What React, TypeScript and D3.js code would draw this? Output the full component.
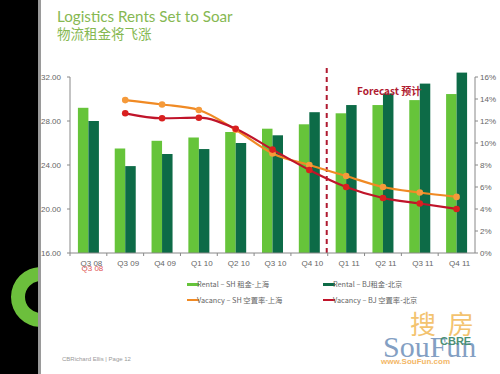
import React from "react";
import * as d3 from "d3";

const categories = ["Q3 08", "Q3 09", "Q4 09", "Q1 10", "Q2 10", "Q3 10", "Q4 10", "Q1 11", "Q2 11", "Q3 11", "Q4 11"];
const rentalSH = [29.2, 25.5, 26.2, 26.5, 27.0, 27.3, 27.7, 28.7, 29.45, 29.9, 30.45];
const rentalBJ = [28.0, 23.9, 25.0, 25.45, 26.0, 26.7, 28.8, 29.45, 30.5, 31.4, 32.4];
const vacancySH: (number | null)[] = [null, 13.9, 13.5, 13.0, 11.2, 9.05, 8.0, 7.0, 6.0, 5.5, 5.1];
const vacancyBJ: (number | null)[] = [null, 12.7, 12.25, 12.3, 11.3, 9.4, 7.55, 6.0, 5.0, 4.5, 4.0];
const leftTicks = [16, 20, 24, 28, 32];
const rightTicks = [0, 2, 4, 6, 8, 10, 12, 14, 16];

const C_LIGHT = "#66c43a";
const C_DARK = "#0d6b47";
const C_ORANGE = "#f08a24";
const C_RED = "#c0142a";

export default function App() {
  const left = 70, right = 475, top = 77, bottom = 253;
  const x = d3.scaleBand<string>().domain(categories).range([left, right]).paddingInner(0).paddingOuter(0);
  const yL = d3.scaleLinear().domain([16, 32]).range([bottom, top]);
  const yR = d3.scaleLinear().domain([0, 16]).range([bottom, top]);
  const bw = 10.5;
  const cx = (c: string) => (x(c) as number) + x.bandwidth() / 2;

  const lineGen = d3
    .line<[string, number | null]>()
    .defined((d) => d[1] !== null)
    .x((d) => cx(d[0]))
    .y((d) => yR(d[1] as number))
    .curve(d3.curveMonotoneX);

  const shPts = categories.map((c, i) => [c, vacancySH[i]] as [string, number | null]);
  const bjPts = categories.map((c, i) => [c, vacancyBJ[i]] as [string, number | null]);

  const font = "'Liberation Sans', Arial, sans-serif";
  const tickColor = "#666";
  const forecastX = (x("Q1 11") as number) - 1;

  const arc = d3.arc()({ innerRadius: 16, outerRadius: 30, startAngle: 0, endAngle: Math.PI * 2 }) as string;

  return (
    <svg width={500} height={374} style={{ position: "absolute", left: 0, top: 0, background: "#fff" }} fontFamily={font}>
      <defs>
        <clipPath id="stripClip">
          <rect x={0} y={0} width={38} height={374} />
        </clipPath>
      </defs>
      <rect x={0} y={0} width={500} height={374} fill="#fff" />
      {/* black side strip */}
      <rect x={0} y={0} width={38} height={374} fill="#000" />
      {/* green C ring */}
      <g clipPath="url(#stripClip)">
        <path d={arc} transform="translate(41,297)" fill="#6cbf3c" />
      </g>
      <rect x={38} y={0} width={3} height={374} fill="#9a9a9a" />

      {/* title */}
      <text x={57} y={22} fontSize={15.2} fill="#86b852" fontFamily="Lato, 'Noto Sans', sans-serif">Logistics Rents Set to Soar</text>
      <text x={57} y={39} fontSize={13.5} fill="#86b852" fontFamily="'Noto Sans CJK SC', sans-serif">物流租金将飞涨</text>

      {/* bars */}
      {categories.map((c, i) => (
        <g key={c}>
          <rect x={cx(c) - bw} y={yL(rentalSH[i])} width={bw} height={bottom - yL(rentalSH[i])} fill={C_LIGHT} />
          <rect x={cx(c)} y={yL(rentalBJ[i])} width={bw} height={bottom - yL(rentalBJ[i])} fill={C_DARK} />
        </g>
      ))}

      {/* forecast divider */}
      <line x1={forecastX} x2={forecastX} y1={68} y2={256} stroke="#b01a30" strokeWidth={2} strokeDasharray="5,4" />
      <text x={357} y={95} fontSize={10} fontWeight="bold" fill="#b01a30" fontFamily="'Noto Sans CJK SC', sans-serif">Forecast 预计</text>

      {/* lines */}
      <path d={lineGen(shPts) as string} fill="none" stroke={C_ORANGE} strokeWidth={2.2} />
      <path d={lineGen(bjPts) as string} fill="none" stroke={C_RED} strokeWidth={2.2} />
      {shPts.filter((d) => d[1] !== null).map((d) => (
        <circle key={"s" + d[0]} cx={cx(d[0])} cy={yR(d[1] as number)} r={3.3} fill="#f59a3a" />
      ))}
      {bjPts.filter((d) => d[1] !== null).map((d) => (
        <circle key={"b" + d[0]} cx={cx(d[0])} cy={yR(d[1] as number)} r={3.3} fill="#d9201f" />
      ))}

      {/* left axis */}
      <line x1={left} x2={left} y1={top} y2={bottom} stroke="#888" />
      {leftTicks.map((t) => (
        <g key={t}>
          <line x1={left - 3} x2={left} y1={yL(t)} y2={yL(t)} stroke="#888" />
          <text x={41} y={yL(t) + 3} fontSize={8} fill={tickColor}>{t.toFixed(2)}</text>
        </g>
      ))}
      {/* right axis */}
      <line x1={right} x2={right} y1={top} y2={bottom} stroke="#888" />
      {rightTicks.map((t) => (
        <g key={t}>
          <line x1={right} x2={right + 3} y1={yR(t)} y2={yR(t)} stroke="#888" />
          <text x={480} y={yR(t) + 3} fontSize={8} fill={tickColor}>{t + "%"}</text>
        </g>
      ))}
      {/* bottom axis */}
      <line x1={left} x2={right} y1={bottom} y2={bottom} stroke="#888" />
      {categories.map((c) => (
        <g key={"t" + c}>
          <line x1={x(c) as number} x2={x(c) as number} y1={bottom} y2={bottom + 3} stroke="#888" />
          <text x={cx(c) + 3} y={266} fontSize={8} fill={tickColor} textAnchor="middle">{c}</text>
        </g>
      ))}
      <text x={cx("Q3 08") + 4} y={271} fontSize={8} fill="#e05555" textAnchor="middle">Q3 08</text>

      {/* legend */}
      <g fontSize={7.3} fill="#666" fontFamily="'Noto Sans CJK SC', sans-serif">
        <rect x={187} y={283} width={12} height={3} fill={C_LIGHT} />
        <text x={197} y={287}>Rental – SH 租金-上海</text>
        <rect x={323} y={283} width={12} height={3} fill={C_DARK} />
        <text x={333} y={287}>Rental – BJ租金-北京</text>
        <rect x={187} y={299} width={12} height={2} fill={C_ORANGE} />
        <text x={197} y={303}>Vacancy – SH 空置率-上海</text>
        <rect x={323} y={299} width={12} height={2} fill={C_RED} />
        <text x={333} y={303}>Vacancy – BJ 空置率-北京</text>
      </g>

      {/* footer */}
      <text x={62} y={361} fontSize={6} fill="#999">CBRichard Ellis | Page 12</text>

      {/* watermark */}
      <g opacity={0.75}>
        <text x={410} y={334} fontSize={26} fill="#f0b040" fontFamily="'Noto Sans CJK SC', sans-serif">搜</text>
        <text x={448} y={334} fontSize={26} fill="#f0b040" fontFamily="'Noto Sans CJK SC', sans-serif">房</text>
        <text x={383} y={357} fontSize={30} fill="#5a7fb0" fontFamily="'Liberation Serif', serif">SouFun</text>
        <text x={440} y={345} fontSize={11} fontWeight="bold" fill="#0d6b47">CBRE</text>
        <text x={381} y={364} fontSize={8} fontWeight="bold" fill="#f0a030">www.SouFun.com</text>
      </g>
    </svg>
  );
}
